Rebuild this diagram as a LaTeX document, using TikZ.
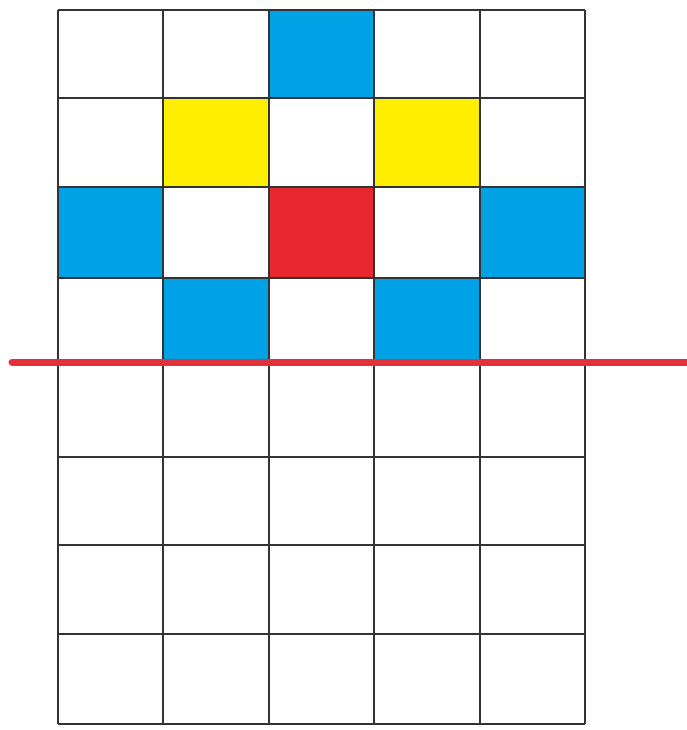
\documentclass[tikz,border=0pt]{standalone}
\usetikzlibrary{positioning}
\definecolor{cellblue}{RGB}{0,162,230}
\definecolor{cellyellow}{RGB}{255,238,0}
\definecolor{cellred}{RGB}{232,40,48}
\definecolor{cutred}{RGB}{225,50,60}
\begin{document}
\begin{tikzpicture}[x=1pt, y=-1pt,
    gridline/.style={black!80, line width=2pt},
    cutline/.style={cutred, line width=7pt, line cap=round}]
  \useasboundingbox (0,0) rectangle (687,730);
  \def\cw{105.4}
  % coloured cells: column / top / bottom / colour
  \foreach \c/\t/\b/\col in {3/10/98/cellblue, 2/98/187/cellyellow, 4/98/187/cellyellow,
      1/187/278/cellblue, 3/187/278/cellred, 5/187/278/cellblue,
      2/278/360/cellblue, 4/278/360/cellblue}
    \fill[\col] ({58+(\c-1)*\cw},\t) rectangle ({58+\c*\cw},\b);
  % grid
  \foreach \i in {0,...,5}
    \draw[gridline] ({58+\i*\cw},10) -- ({58+\i*\cw},724);
  \foreach \y in {10,98,187,278,360,457,545,634,724}
    \draw[gridline] (58,\y) -- (585,\y);
  % red cut line
  \draw[cutline] (12,362) -- (692,362);
\end{tikzpicture}
\end{document}
